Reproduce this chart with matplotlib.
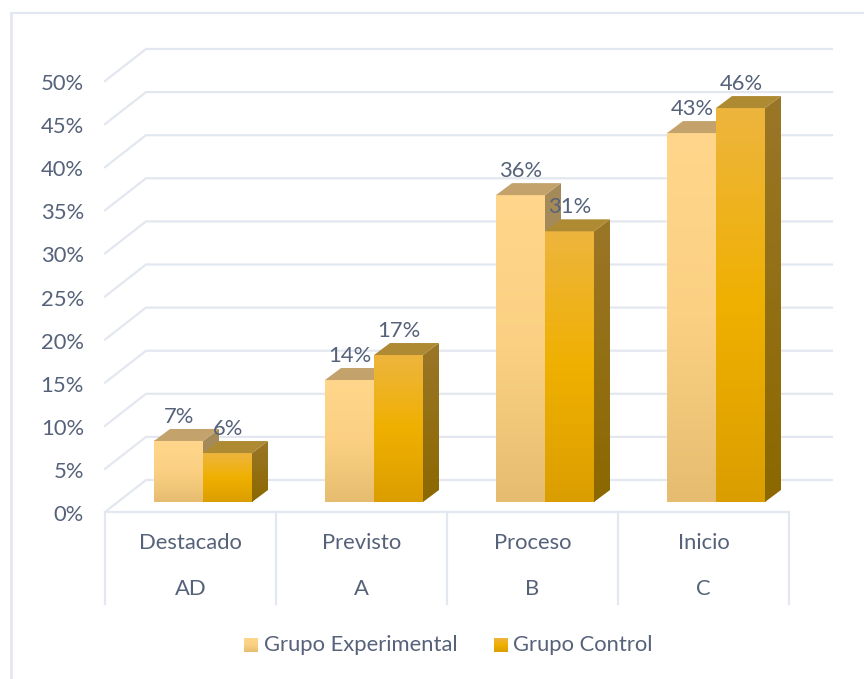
import numpy as np
import matplotlib
matplotlib.use("Agg")
import matplotlib.pyplot as plt
from matplotlib.patches import Polygon
from matplotlib.colors import LinearSegmentedColormap

categories = ["Destacado", "Previsto", "Proceso", "Inicio"]
levels = ["AD", "A", "B", "C"]
exp_values = [7.08, 14.15, 35.6, 42.8]
ctrl_values = [5.68, 17.05, 31.4, 45.7]
exp_labels = ["7%", "14%", "36%", "43%"]
ctrl_labels = ["6%", "17%", "31%", "46%"]
y_ticks = [0, 5, 10, 15, 20, 25, 30, 35, 40, 45, 50]
series_names = ["Grupo Experimental", "Grupo Control"]

W, H = 864, 679
PX_X, PX_Y = 171.0, 8.62      # pixels per category / per percent
X0, Y0 = 105, 512             # pixel of (0, 0) on the front floor edge
def dx(p): return p / PX_X
def dy(p): return p / PX_Y

plt.rcParams["font.family"] = ["Lato", "DejaVu Sans"]
TXT = "#56627A"
GRID = "#E3E7EF"
FS = 15.8
LW = 1.6

fig = plt.figure(figsize=(W / 100, H / 100), dpi=100)
ax = fig.add_axes([0, 0, 1, 1])

# outer frame
ax.plot([dx(11 - X0)] * 2, [dy(Y0 - 679), dy(Y0 - 13)], color=GRID, lw=2.0, zorder=1)
ax.plot([dx(11 - X0), dx(W - X0)], [dy(Y0 - 13)] * 2, color=GRID, lw=LW, zorder=1)

# walls
wall_dx, wall_dy = dx(41), dy(32)
right_end = dx(832 - X0)
for t in y_ticks:
    ax.plot([0, wall_dx, right_end], [t, t + wall_dy, t + wall_dy],
            color=GRID, lw=LW, zorder=1, solid_joinstyle="miter")
    ax.text(dx(-21), t + dy(-3), f"{t}%", ha="right", va="center",
            fontsize=FS, color=TXT, zorder=5)

# multi-level axis
n = len(categories)
ax.plot([0, n], [0, 0], color=GRID, lw=LW, zorder=1)
for i in range(n + 1):
    ax.plot([i, i], [0, dy(-92)], color=GRID, lw=LW, zorder=1)
for i in range(n):
    ax.text(i + 0.5, dy(-31), categories[i], ha="center", va="center", fontsize=FS, color=TXT)
    ax.text(i + 0.5, dy(-77), levels[i], ha="center", va="center", fontsize=FS, color=TXT)

exp_cmap = LinearSegmentedColormap.from_list("e", ["#FFD68B", "#FBD083", "#E6BD70"])
ctrl_cmap = LinearSegmentedColormap.from_list("c", ["#EDB53E", "#F0B000", "#DB9E00"])
side_cmap = LinearSegmentedColormap.from_list("s", ["#9A7628", "#8C6800"])
grad = np.linspace(0, 1, 128).reshape(-1, 1)

bw = dx(49)
base = dy(10)
off = dx(49)  # first bar start measured from the category start
ddx, ddy = dx(16), dy(12)

def bar(x, v, cmap, side, top, z):
    y1 = base + v
    ax.imshow(grad, cmap=cmap, extent=(x, x + bw, base, y1), aspect="auto", zorder=z, origin="upper")
    poly = Polygon([(x + bw, base), (x + bw + ddx, base + ddy), (x + bw + ddx, y1 + ddy), (x + bw, y1)],
                   facecolor="none", edgecolor="none", zorder=z, transform=ax.transData)
    ax.add_patch(poly)
    if side is None:
        im = ax.imshow(grad, cmap=side_cmap, extent=(x + bw, x + bw + ddx, base, y1 + ddy),
                       aspect="auto", zorder=z, origin="upper")
        im.set_clip_path(poly)
    else:
        poly.set_facecolor(side)
    ax.add_patch(Polygon([(x, y1), (x + ddx, y1 + ddy), (x + bw + ddx, y1 + ddy), (x + bw, y1)],
                         facecolor=top, edgecolor="none", zorder=z))

for i in range(n):
    x1 = i + off
    x2 = x1 + bw
    bar(x1, exp_values[i], exp_cmap, "#A48A58", "#C3A36B", 2)
    bar(x2, ctrl_values[i], ctrl_cmap, None, "#AE8A33", 3)
    ax.text(x1 + dx(25), base + exp_values[i] + dy(24), exp_labels[i], ha="center", va="center",
            fontsize=FS, color=TXT, zorder=6)
    ax.text(x2 + dx(25), base + ctrl_values[i] + dy(24), ctrl_labels[i], ha="center", va="center",
            fontsize=FS, color=TXT, zorder=6)

# legend
for name, cmap, px, tx in zip(series_names, [exp_cmap, ctrl_cmap], [244, 494], [264, 513]):
    ax.imshow(grad, cmap=cmap, extent=(dx(px - X0), dx(px + 14 - X0), dy(Y0 - 652), dy(Y0 - 638)),
              aspect="auto", zorder=3, origin="upper")
    ax.text(dx(tx - X0), dy(Y0 - 645), name, ha="left", va="center", fontsize=FS, color=TXT)

ax.set_xlim(-X0 / PX_X, (W - X0) / PX_X)
ax.set_ylim(-(H - Y0) / PX_Y, Y0 / PX_Y)
ax.axis("off")
fig.savefig("out.png", dpi=100)
